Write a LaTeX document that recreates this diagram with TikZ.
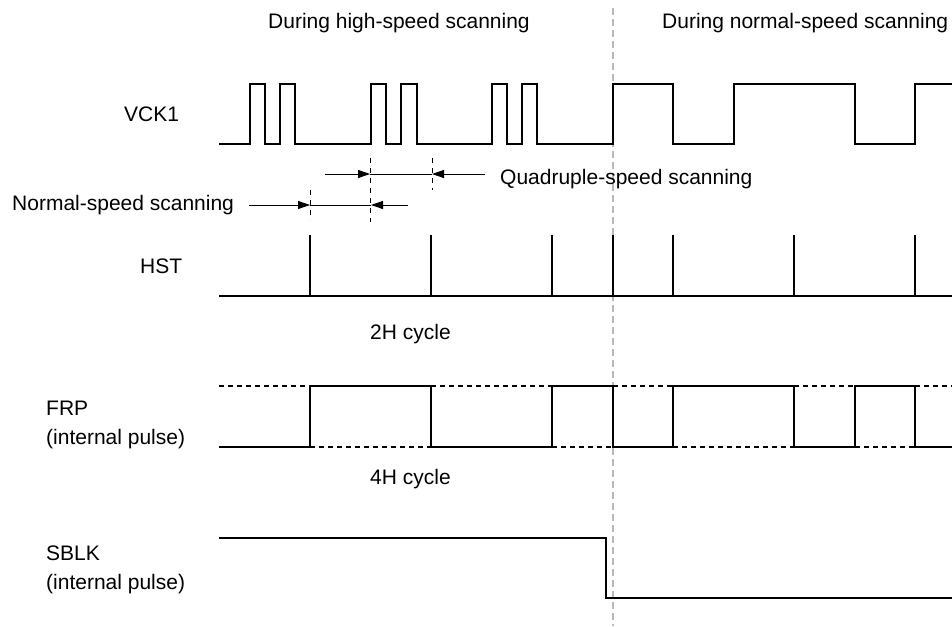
\documentclass[tikz,border=0pt]{standalone}
\usepackage{fontspec}
\setmainfont{Liberation Sans}
\usetikzlibrary{arrows.meta}
\begin{document}
\begin{tikzpicture}[x=1pt,y=-1pt,
  wave/.style={line width=1.3pt,line join=miter},
  compl/.style={line width=1.1pt,dash pattern=on 5pt off 4pt},
  divider/.style={line width=1.2pt,gray!55,dash pattern=on 7pt off 4pt},
  tick/.style={line width=0.8pt,dash pattern=on 5pt off 5pt},
  dim/.style={line width=0.8pt},
  dimarrow/.style={dim,-{Triangle[length=12pt,width=8pt]}},
  lbl/.style={anchor=base west,inner sep=0pt,font=\fontsize{21}{25}\selectfont}]
\useasboundingbox (0,0) rectangle (952,626);
% titles
\node[lbl] (t1) at (268,29) {During high-speed scanning};
\node[lbl] (t2) at (662,29) {During normal-speed scanning};
% divider
\draw[divider] (613,8) -- (613,626);
% signal labels
\node[lbl] (lv) at (124,121) {VCK1};
\node[lbl] (lh) at (140,273) {HST};
\node[lbl] (lf1) at (46,415) {FRP};
\node[lbl] (lf2) at (46,444) {(internal pulse)};
\node[lbl] (ls1) at (46,560) {SBLK};
\node[lbl] (ls2) at (46,589) {(internal pulse)};
\node[lbl] (c2) at (370,339) {2H cycle};
\node[lbl] (c4) at (370,484) {4H cycle};
\node[lbl] (qs) at (500,184) {Quadruple-speed scanning};
\node[lbl] (ns) at (12,210) {Normal-speed scanning};
% VCK1
\draw[wave] (219,144) -- (250,144) -- (250,84) -- (265,84) -- (265,144) -- (280,144) -- (280,84) -- (295,84) -- (295,144)
  -- (371,144) -- (371,84) -- (386,84) -- (386,144) -- (401,144) -- (401,84) -- (417,84) -- (417,144)
  -- (492,144) -- (492,84) -- (507,84) -- (507,144) -- (522,144) -- (522,84) -- (537,84) -- (537,144)
  -- (613,144) -- (613,84) -- (673,84) -- (673,144) -- (734,144) -- (734,84) -- (855,84) -- (855,144)
  -- (915,144) -- (915,84) -- (952,84);
% dimension marks
\coordinate (q1) at (370,158); \coordinate (q1b) at (370,222);
\coordinate (q2) at (432,158); \coordinate (q2b) at (432,190);
\coordinate (n1) at (310,190); \coordinate (n1b) at (310,220);
\draw[tick] (q1) -- (q1b);
\draw[tick] (q2) -- (q2b);
\draw[tick] (n1) -- (n1b);
\coordinate (qa) at (325,174); \coordinate (qm1) at (370,174); \coordinate (qm2) at (432,174); \coordinate (qb) at (485,174);
\draw[dimarrow] (qa) -- (qm1);
\draw[dim] (qm1) -- (qm2);
\draw[dimarrow] (qb) -- (qm2);
\coordinate (na) at (249,205); \coordinate (nm1) at (310,205); \coordinate (nm2) at (371,205); \coordinate (nb) at (408,205);
\draw[dimarrow] (na) -- (nm1);
\draw[dim] (nm1) -- (nm2);
\draw[dimarrow] (nb) -- (nm2);
% HST
\draw[wave] (219,296) -- (952,296);
\foreach \x in {310,431,552,613,673,794,915} \draw[wave] (\x,296) -- (\x,235);
% FRP
\draw[wave] (219,447) -- (310,447) -- (310,386) -- (431,386) -- (431,447) -- (552,447) -- (552,386) -- (613,386)
  -- (613,447) -- (673,447) -- (673,386) -- (794,386) -- (794,447) -- (855,447) -- (855,386) -- (915,386) -- (915,447) -- (952,447);
\draw[compl] (219,386) -- (310,386);
\draw[compl] (431,386) -- (552,386);
\draw[compl] (613,386) -- (673,386);
\draw[compl] (794,386) -- (855,386);
\draw[compl] (915,386) -- (952,386);
\draw[compl] (310,447) -- (431,447);
\draw[compl] (552,447) -- (613,447);
\draw[compl] (673,447) -- (794,447);
\draw[compl] (855,447) -- (915,447);
% SBLK
\draw[wave] (219,538) -- (606,538) -- (606,598) -- (952,598);
\end{tikzpicture}
\end{document}
